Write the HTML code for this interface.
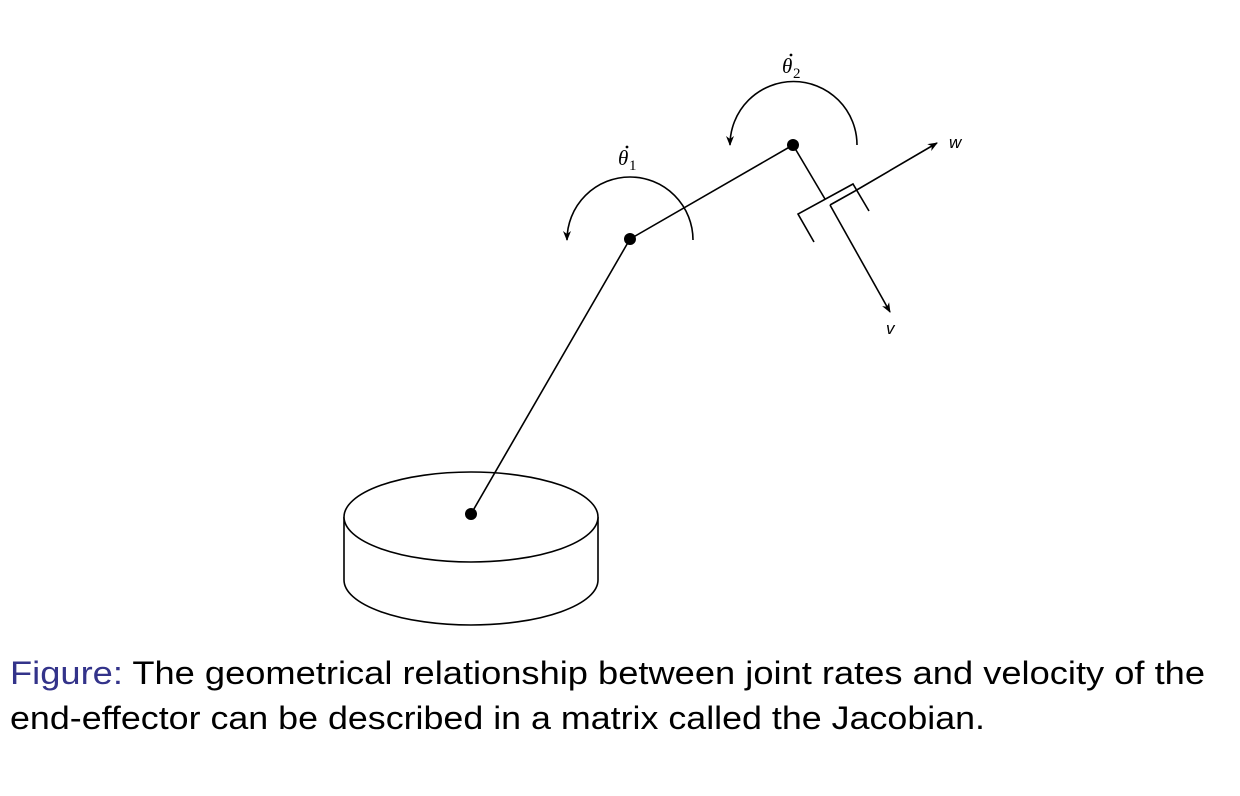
<!DOCTYPE html>
<html><head><style>html,body{margin:0;padding:0;background:#fff;}svg{display:block}</style></head>
<body>
<svg width="1240" height="796" viewBox="0 0 1240 796" xmlns="http://www.w3.org/2000/svg">
<defs>
<marker id="ah" markerWidth="10" markerHeight="10" refX="9" refY="5" orient="auto" markerUnits="userSpaceOnUse">
<path d="M0,1 L10,5 L0,9 L3,5 Z" fill="#000"/>
</marker>
</defs>
<g fill="none" stroke="#000" stroke-width="1.6">
<path d="M344,517 L344,580 A127,45 0 0 0 598,580 L598,517"/>
<ellipse cx="471" cy="517" rx="127" ry="45" fill="#fff"/>
<line x1="471" y1="514" x2="630" y2="239"/>
<line x1="630" y1="239" x2="793" y2="145"/>
<line x1="793" y1="145" x2="825" y2="199"/>
<polyline points="814,242 798,214 853,184 869,211"/>
<polyline points="830,205 855,191"/>
<line x1="855" y1="191" x2="937" y2="143" marker-end="url(#ah)"/>
<line x1="830" y1="205" x2="890" y2="312" marker-end="url(#ah)"/>
<path d="M693,240 A63,63 0 0 0 567,240" marker-end="url(#ah)"/>
<path d="M857,145 A63.5,63.5 0 0 0 730,145" marker-end="url(#ah)"/>
</g>
<circle cx="471" cy="514" r="6" fill="#000"/>
<circle cx="630" cy="239" r="6" fill="#000"/>
<circle cx="793" cy="145" r="6" fill="#000"/>
<g font-family="Liberation Serif, serif" font-size="21" font-style="italic">
<text x="618" y="165">θ</text><circle cx="627" cy="147" r="1.4" fill="#000"/>
<text x="629" y="170" font-size="15" font-style="normal">1</text>
<text x="782" y="73">θ</text><circle cx="791" cy="55" r="1.4" fill="#000"/>
<text x="793" y="78" font-size="15" font-style="normal">2</text>
</g>
<g font-family="Liberation Sans, sans-serif" font-size="17" font-style="italic">
<text x="949" y="148">w</text>
<text x="886" y="334">v</text>
</g>
<g font-family="Liberation Sans, sans-serif" font-size="32">
<text x="10" y="684" textLength="1195" lengthAdjust="spacingAndGlyphs"><tspan fill="#33338a">Figure:</tspan> The geometrical relationship between joint rates and velocity of the</text>
<text x="10" y="729" textLength="975" lengthAdjust="spacingAndGlyphs">end-effector can be described in a matrix called the Jacobian.</text>
</g>
</svg>
</body></html>
